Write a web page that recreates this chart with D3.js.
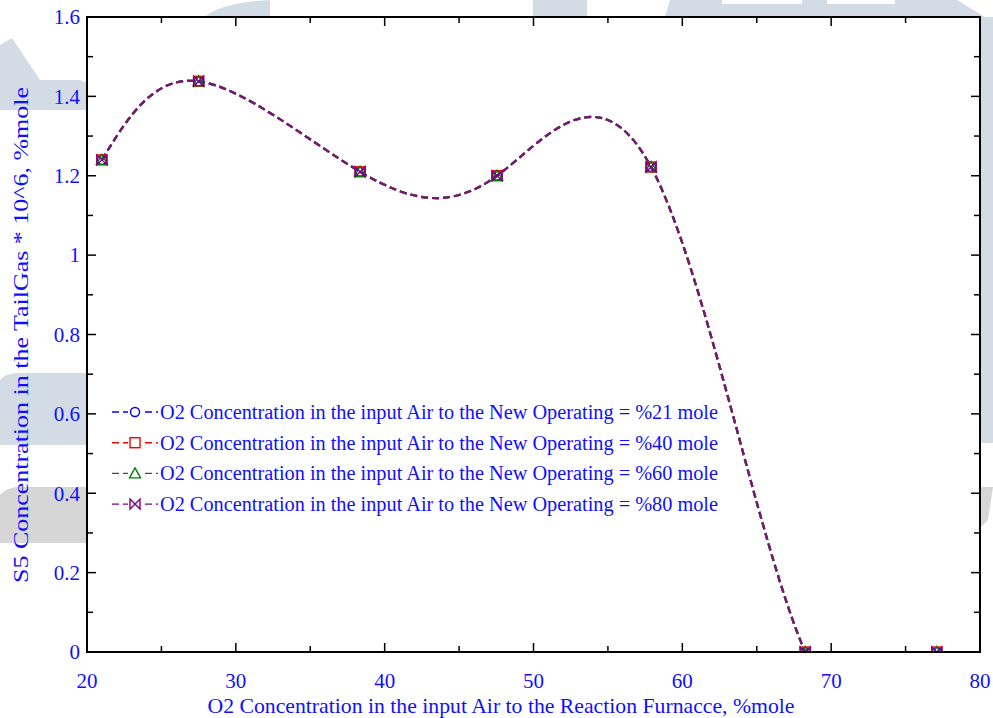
<!DOCTYPE html>
<html>
<head>
<meta charset="utf-8">
<script src="https://cdn.jsdelivr.net/npm/d3@7"></script>
<style>
  html, body { margin: 0; padding: 0; background: #fff; }
  svg { display: block; }
  text { font-family: "Liberation Serif", "Times New Roman", serif; }
</style>
</head>
<body>
<svg id="chart" width="993" height="718"></svg>
<script>
// O2 concentration in the furnace air feed (%mole)
const o2Feed = [21.0, 27.5, 38.35, 47.55, 57.9, 68.25, 77.1];
// S5 in the tail gas (x 10^6, %mole) for each operating O2 level
const s5At21 = [1.240, 1.438, 1.210, 1.200, 1.222, 0, 0];
const s5At40 = [1.240, 1.438, 1.210, 1.200, 1.222, 0, 0];
const s5At60 = [1.240, 1.438, 1.210, 1.200, 1.222, 0, 0];
const s5At80 = [1.240, 1.438, 1.210, 1.200, 1.222, 0, 0];
const seriesNames = [
  "O2 Concentration in the input Air to the New Operating = %21 mole",
  "O2 Concentration in the input Air to the New Operating = %40 mole",
  "O2 Concentration in the input Air to the New Operating = %60 mole",
  "O2 Concentration in the input Air to the New Operating = %80 mole"
];
const xTicks = [20, 30, 40, 50, 60, 70, 80];
const yTicks = [0, 0.2, 0.4, 0.6, 0.8, 1, 1.2, 1.4, 1.6];

const series = [
  { name: seriesNames[0], values: s5At21, color: "#0000ff", line: "#3030ff", marker: "circle" },
  { name: seriesNames[1], values: s5At40, color: "#ff0000", line: "#ff2020", marker: "square" },
  { name: seriesNames[2], values: s5At60, color: "#008000", line: "#1a9a1a", marker: "triangle" },
  { name: seriesNames[3], values: s5At80, color: "#800080", line: "#7a147c", marker: "bowtie" }
];

const svg = d3.select("#chart");
const W = 993, H = 718;
const m = { left: 87, right: 13, top: 17, bottom: 66 };
const pw = W - m.left - m.right, ph = H - m.top - m.bottom;

// faint background shapes
const bg = svg.append("g");
const wm = "#d3dbe4";
bg.append("path").attr("fill", wm)
  .attr("d", "M0,45 L12,38 L40,80 L80,80 L87,83 L87,110 L0,110 Z");
bg.append("path").attr("fill", wm)
  .attr("d", "M205,17 C215,8 235,2 270,0 L270,17 Z");
bg.append("rect").attr("fill", wm).attr("x", 533).attr("y", 0).attr("width", 54).attr("height", 17);
bg.append("path").attr("fill", wm)
  .attr("d", "M665,17 L670,0 L957,0 L985,17 Z");
bg.append("rect").attr("fill", "#fff").attr("x", 722).attr("y", 0).attr("width", 80).attr("height", 4);
bg.append("rect").attr("fill", "#fff").attr("x", 827).attr("y", 0).attr("width", 68).attr("height", 4);
bg.append("path").attr("fill", wm)
  .attr("d", "M0,380 C5,375 10,373 20,373 L87,373 L87,445 L0,445 Z");
bg.append("path").attr("fill", "#d6d6d6")
  .attr("d", "M0,495 C5,489 12,487 20,487 L87,487 L87,543 L0,543 Z");
bg.append("path").attr("fill", wm)
  .attr("d", "M980,17 L993,17 L993,443 L980,443 Z");
bg.append("path").attr("fill", "#d6d6d6")
  .attr("d", "M980,487 L993,487 L988,520 L980,528 Z");

const x = d3.scaleLinear().domain([20, 80]).range([m.left, m.left + pw]);
const y = d3.scaleLinear().domain([0, 1.6]).range([m.top + ph, m.top]);

// plot background
svg.append("rect").attr("x", m.left).attr("y", m.top).attr("width", pw).attr("height", ph).attr("fill", "#fff");

svg.append("defs").append("clipPath").attr("id", "plotClip")
  .append("rect").attr("x", m.left).attr("y", m.top).attr("width", pw).attr("height", ph);

// marker shapes, drawn around (0,0)
function drawMarker(g, type, color) {
  if (type === "circle") {
    g.append("circle").attr("r", 4.5).attr("fill", "none").attr("stroke", color).attr("stroke-width", 1.4);
  } else if (type === "square") {
    g.append("rect").attr("x", -5).attr("y", -5).attr("width", 10).attr("height", 10)
      .attr("fill", "none").attr("stroke", color).attr("stroke-width", 1.4);
  } else if (type === "triangle") {
    g.append("path").attr("d", "M0,-5.5 L5.5,4.5 L-5.5,4.5 Z")
      .attr("fill", "none").attr("stroke", color).attr("stroke-width", 1.4);
  } else {
    g.append("path").attr("d", "M-5,-5 L5,5 L5,-5 L-5,5 Z")
      .attr("fill", "none").attr("stroke", color).attr("stroke-width", 1.4);
  }
}

const plot = svg.append("g").attr("clip-path", "url(#plotClip)");
const lineGen = d3.line().x((d, i) => x(o2Feed[i])).y(d => y(d)).curve(d3.curveNatural);

series.forEach(s => {
  plot.append("path").datum(s.values)
    .attr("d", lineGen)
    .attr("fill", "none").attr("stroke", s.line).attr("stroke-width", 2.2)
    .attr("stroke-dasharray", "7,4");
});
series.forEach(s => {
  s.values.forEach((v, i) => {
    const g = plot.append("g").attr("transform", `translate(${x(o2Feed[i])},${y(v)})`);
    drawMarker(g, s.marker, s.color);
  });
});

// axes frame with inward ticks
const axisCol = "#000";
const tickMajor = 9, tickMinor = 6;
const xMinor = d3.range(25, 80, 10);
const yMinor = d3.range(0.1, 1.6, 0.2);
const axes = svg.append("g").attr("stroke", axisCol).attr("stroke-width", 1.5);
xTicks.concat(xMinor).forEach(t => {
  const len = xTicks.includes(t) ? tickMajor : tickMinor;
  axes.append("line").attr("x1", x(t)).attr("x2", x(t)).attr("y1", y(0)).attr("y2", y(0) - len);
  axes.append("line").attr("x1", x(t)).attr("x2", x(t)).attr("y1", y(1.6)).attr("y2", y(1.6) + len);
});
yTicks.concat(yMinor).forEach(t => {
  const len = yTicks.some(v => Math.abs(v - t) < 1e-9) ? tickMajor : tickMinor;
  axes.append("line").attr("y1", y(t)).attr("y2", y(t)).attr("x1", x(20)).attr("x2", x(20) + len);
  axes.append("line").attr("y1", y(t)).attr("y2", y(t)).attr("x1", x(80)).attr("x2", x(80) - len);
});
svg.append("rect").attr("x", m.left).attr("y", m.top).attr("width", pw).attr("height", ph)
  .attr("fill", "none").attr("stroke", axisCol).attr("stroke-width", 2);

const textCol = "#1010ff";
const fmtY = d => (d === 0 || d === 1) ? String(d) : d3.format(".1f")(d);
svg.append("g").selectAll("text").data(yTicks).join("text")
  .attr("x", m.left - 7).attr("y", d => y(d)).attr("dy", "0.35em")
  .attr("text-anchor", "end").attr("fill", textCol).attr("font-size", 21)
  .text(fmtY);
svg.append("g").selectAll("text").data(xTicks).join("text")
  .attr("x", d => x(d)).attr("y", 688)
  .attr("text-anchor", "middle").attr("fill", textCol).attr("font-size", 21)
  .text(d => d);

svg.append("text")
  .attr("x", 501).attr("y", 713)
  .attr("text-anchor", "middle").attr("fill", textCol).attr("font-size", 21)
  .attr("textLength", 587).attr("lengthAdjust", "spacingAndGlyphs")
  .text("O2 Concentration in the input Air to the Reaction Furnacce, %mole");
svg.append("text")
  .attr("transform", "translate(28,335) rotate(-90)")
  .attr("text-anchor", "middle").attr("fill", textCol).attr("font-size", 21)
  .attr("textLength", 496).attr("lengthAdjust", "spacingAndGlyphs")
  .text("S5 Concentration in the TailGas * 10^6, %mole");

// legend
const legend = svg.append("g");
series.forEach((s, i) => {
  const ly = 412 + i * 30.7;
  const g = legend.append("g").attr("transform", `translate(0,${ly})`);
  g.append("line").attr("x1", 112).attr("x2", 158).attr("y1", 0).attr("y2", 0)
    .attr("stroke", s.color).attr("stroke-width", 1.4).attr("stroke-dasharray", "7,4");
  const mg = g.append("g").attr("transform", "translate(135,0)");
  mg.append("rect").attr("x", -7).attr("y", -7).attr("width", 14).attr("height", 14).attr("fill", "#fff");
  drawMarker(mg, s.marker, s.color);
  g.append("text").attr("x", 160).attr("y", 0).attr("dy", "0.35em")
    .attr("fill", textCol).attr("font-size", 20)
    .attr("textLength", 558).attr("lengthAdjust", "spacingAndGlyphs")
    .text(s.name);
});
</script>
</body>
</html>
